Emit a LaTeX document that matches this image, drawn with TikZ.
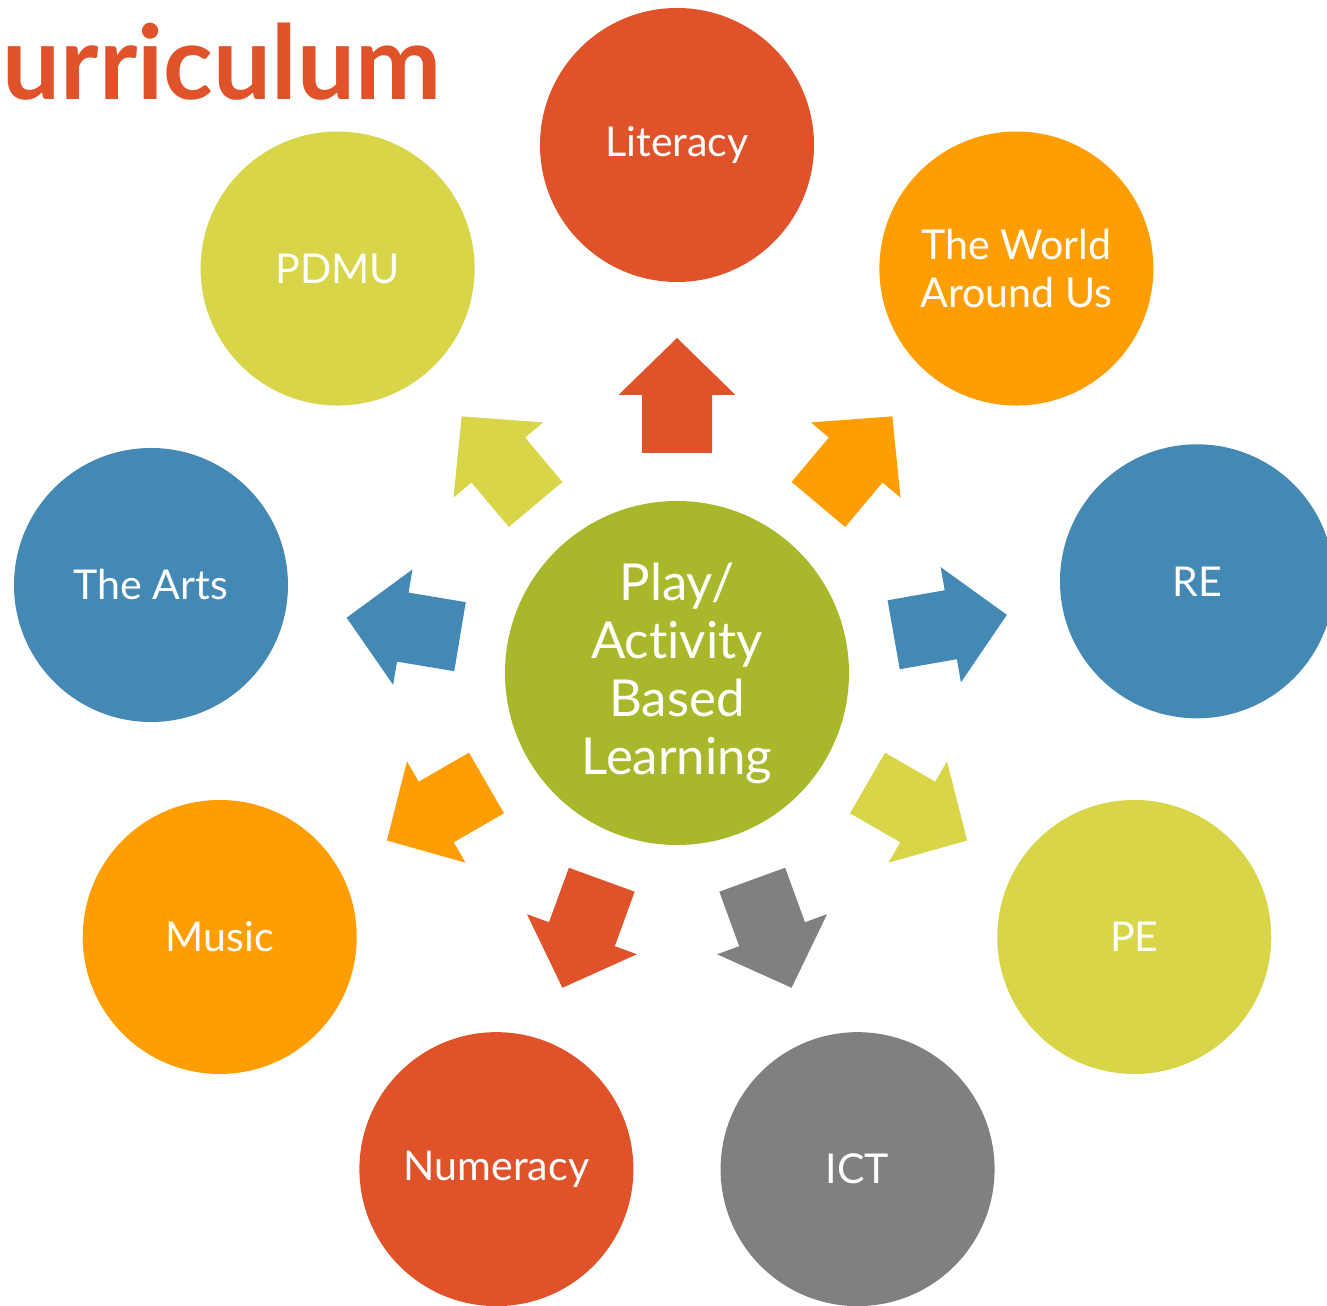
\documentclass[tikz,border=0pt]{standalone}
\usepackage{fontspec}
\setmainfont{Lato}[Ligatures=NoCommon]
\usetikzlibrary{calc}
\definecolor{cred}{HTML}{E0532A}
\definecolor{corange}{HTML}{FE9E03}
\definecolor{cblue}{HTML}{4389B4}
\definecolor{cyell}{HTML}{D9D548}
\definecolor{cgray}{HTML}{808080}
\definecolor{cgreen}{HTML}{A8B82A}
\newcommand\blockarr[2]{\fill[#2, shift={(c.center)}, rotate=#1]
  (2.20,-0.35) -- (2.78,-0.35) -- (2.78,-0.585) -- (3.35,0) -- (2.78,0.585) -- (2.78,0.35) -- (2.20,0.35) -- cycle;}
\begin{document}
\begin{tikzpicture}[
  circ/.style={circle, minimum size=2.74cm, inner sep=0pt, text=white, align=center,
    font=\fontsize{11.7}{13.4}\selectfont},
  hub/.style={circle, minimum size=3.44cm, inner sep=0pt, text=white, align=center,
    fill=cgreen, font=\fontsize{14.5}{16.5}\selectfont}]
\useasboundingbox (0,0) rectangle (13.27,-13.06);
\clip (0,0) rectangle (13.27,-13.06);
\node[anchor=base west, inner sep=0pt, text=cred, font=\fontsize{29.3}{29.3}\selectfont\bfseries] (title) at (0.02,-1.00) {urriculum};
\node[hub, yshift=-0.03cm] (c) at (6.77,-6.70) {Play/\\Ac\kern0pt t\kern0pt ivity\\Based\\Learning};
\node[circ, fill=cred] (lit) at ($(c)+(90:5.28)$) {Literacy};
\node[circ, fill=corange] (wau) at ($(c)+(50:5.28)$) {The World\\Around Us};
\node[circ, fill=cblue] (re) at ($(c)+(10:5.28)$) {RE};
\node[circ, fill=cyell] (pe) at ($(c)+(-30:5.28)$) {PE};
\node[circ, fill=cgray] (ict) at ($(c)+(-70:5.28)$) {ICT};
\node[circ, fill=cred] (num) at ($(c)+(-110:5.28)$) {Numeracy};
\node[circ, fill=corange] (mus) at ($(c)+(-150:5.28)$) {Music};
\node[circ, fill=cblue] (arts) at (1.51,-5.85) {The Arts};
\node[circ, fill=cyell] (pdmu) at ($(c)+(130:5.28)$) {PDMU};
\blockarr{90}{cred}
\blockarr{50}{corange}
\blockarr{10}{cblue}
\blockarr{-30}{cyell}
\blockarr{-70}{cgray}
\blockarr{-110}{cred}
\blockarr{-150}{corange}
\blockarr{170.5}{cblue}
\blockarr{130}{cyell}
\end{tikzpicture}
\end{document}
